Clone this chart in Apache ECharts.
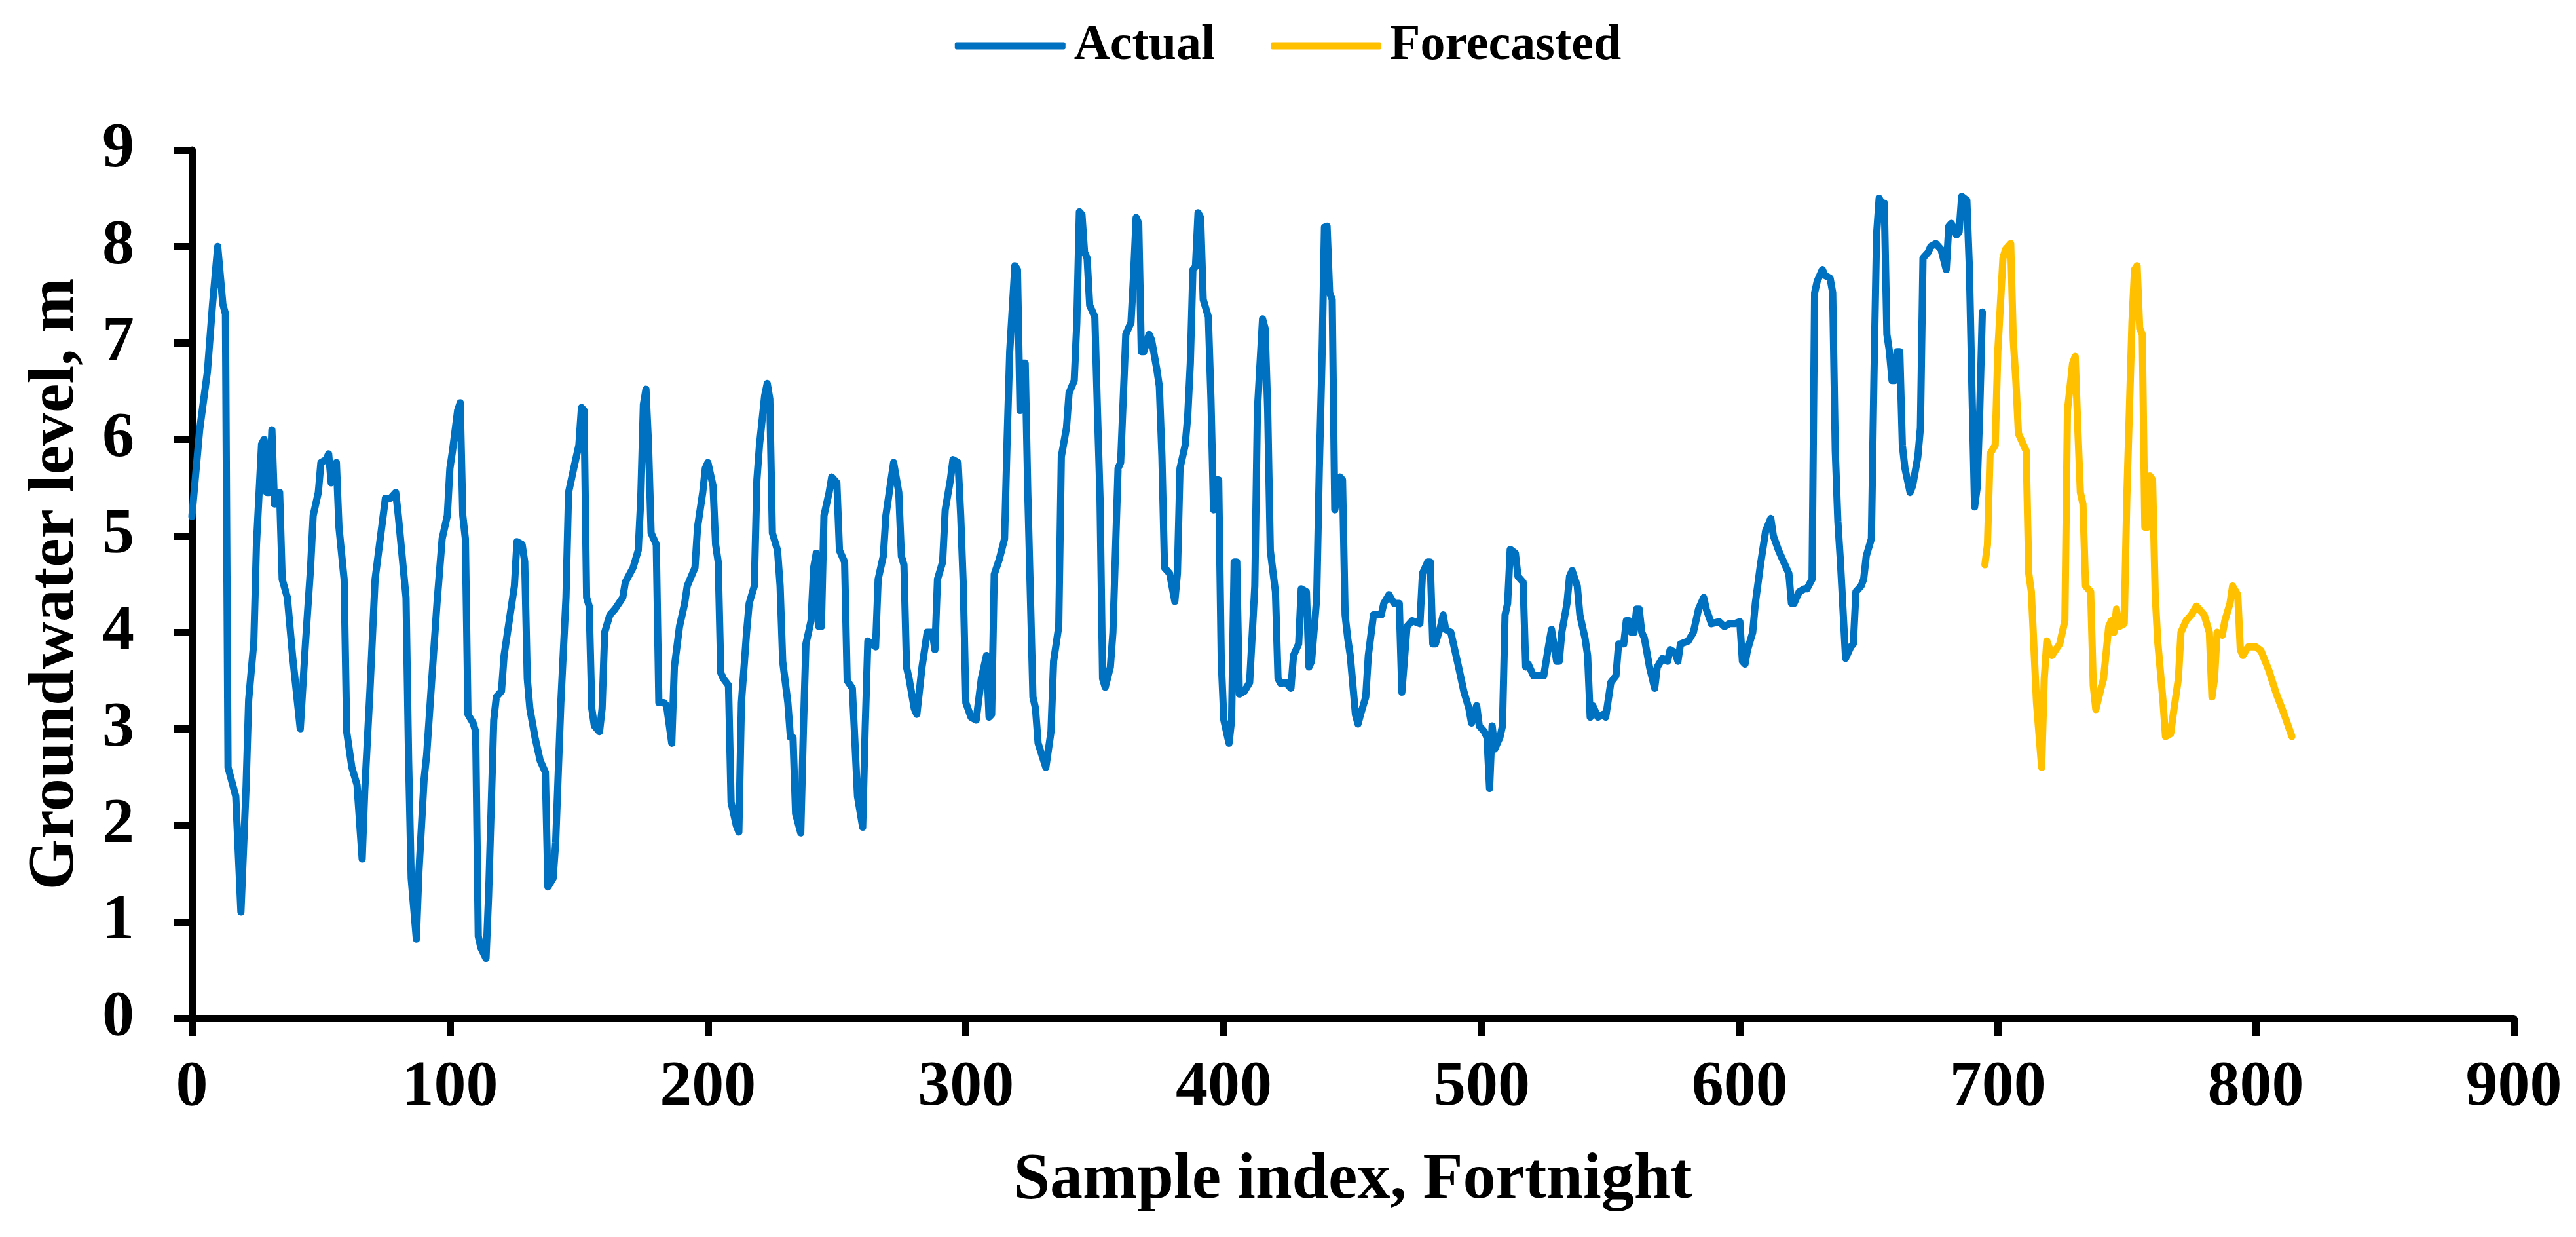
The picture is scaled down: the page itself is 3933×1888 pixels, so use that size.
<!DOCTYPE html>
<html>
<head>
<meta charset="utf-8">
<title>Groundwater level</title>
<script src="https://cdn.jsdelivr.net/npm/echarts@6/dist/echarts.min.js"></script>
<style>
  html, body { margin: 0; padding: 0; background: #fff; }
  #chart { width: 3933px; height: 1888px; }
</style>
</head>
<body>
<div id="chart"></div>
<script>
// sample index / level (turning points of each curve)
const actualIdx = [
  0, 3, 6, 8, 10, 12, 13, 14, 15, 17, 19, 21, 22, 24, 25, 27, 28, 29, 30, 31,
  32, 34, 35, 37, 39, 42, 44, 46, 47, 49, 50, 52, 53, 54, 56, 57, 59, 60, 62, 64,
  66, 67, 69, 71, 73, 75, 77, 79, 80, 83, 84, 85, 87, 88, 90, 91, 93, 95, 97, 99,
  100, 101, 103, 104, 105, 106, 107, 109, 110, 111, 112, 114, 115, 117, 118, 120, 121, 123, 125, 126,
  128, 129, 130, 131, 133, 135, 137, 138, 140, 141, 143, 145, 146, 148, 150, 151, 152, 153, 154, 155,
  156, 158, 159, 160, 162, 164, 167, 168, 171, 173, 174, 175, 176, 177, 178, 180, 181, 183, 184, 186,
  187, 189, 191, 192, 195, 196, 198, 199, 200, 202, 203, 204, 205, 206, 208, 209, 211, 212, 213, 215,
  216, 218, 219, 220, 222, 223, 224, 225, 227, 228, 229, 231, 232, 233, 234, 236, 237, 238, 240, 241,
  242, 243, 244, 245, 247, 248, 250, 251, 253, 254, 256, 258, 260, 261, 262, 265, 266, 268, 269, 271,
  272, 274, 275, 276, 277, 278, 280, 281, 283, 285, 287, 288, 289, 291, 292, 294, 295, 297, 298, 299,
  300, 302, 304, 306, 308, 309, 310, 311, 313, 315, 316, 317, 319, 320, 321, 322, 323, 324, 326, 327,
  328, 331, 333, 334, 336, 337, 339, 340, 342, 343, 344, 345, 346, 347, 348, 350, 351, 352, 353, 354,
  356, 357, 359, 360, 362, 364, 365, 366, 367, 368, 369, 371, 372, 374, 375, 376, 377, 379, 381, 382,
  383, 385, 386, 387, 388, 389, 390, 391, 392, 394, 395, 396, 397, 398, 399, 400, 402, 403, 404, 405,
  406, 408, 410, 412, 413, 415, 416, 417, 418, 420, 421, 422, 424, 426, 427, 429, 430, 432, 433, 434,
  436, 437, 438, 439, 440, 441, 442, 443, 445, 446, 447, 448, 449, 451, 452, 453, 455, 456, 458, 461,
  462, 464, 466, 468, 469, 471, 473, 476, 477, 479, 480, 481, 482, 484, 485, 486, 488, 490, 491, 493,
  495, 496, 498, 499, 501, 502, 503, 504, 505, 507, 508, 509, 510, 511, 513, 514, 516, 517, 518, 520,
  524, 526, 527, 529, 530, 531, 533, 534, 535, 537, 538, 540, 541, 542, 543, 545, 547, 548, 550, 552,
  553, 555, 556, 557, 558, 559, 560, 561, 562, 563, 565, 567, 568, 570, 572, 573, 575, 576, 577, 580,
  582, 584, 586, 587, 589, 592, 594, 596, 598, 600, 601, 602, 603, 605, 606, 608, 610, 612, 613, 615,
  618, 619, 620, 621, 623, 625, 626, 628, 629, 630, 632, 633, 635, 636, 637, 638, 639, 641, 643, 644,
  645, 647, 648, 649, 651, 652, 653, 654, 655, 656, 657, 658, 659, 660, 661, 662, 663, 664, 666, 667,
  669, 670, 671, 673, 674, 676, 678, 680, 681, 682, 684, 685, 686, 688, 689, 690, 691, 692, 693, 694
];
const actualVal = [
  5.2, 6.1, 6.7, 7.4, 8.0, 7.4, 7.3, 2.6, 2.5, 2.3, 1.1, 2.4, 3.3, 3.9, 4.9, 5.95, 6.0, 5.45, 5.45, 6.1,
  5.33, 5.45, 4.55, 4.36, 3.76, 3.0, 3.88, 4.67, 5.21, 5.45, 5.76, 5.79, 5.85, 5.55, 5.76, 5.09, 4.55, 2.97, 2.6, 2.42,
  1.65, 2.36, 3.39, 4.55, 4.97, 5.39, 5.39, 5.45, 5.21, 4.36, 2.67, 1.45, 0.82, 1.52, 2.48, 2.73, 3.52, 4.3, 4.97, 5.21,
  5.7, 5.88, 6.3, 6.38, 5.21, 4.97, 3.15, 3.06, 2.97, 0.85, 0.73, 0.62, 1.27, 3.09, 3.33, 3.39, 3.76, 4.12, 4.48, 4.94,
  4.91, 4.73, 3.52, 3.21, 2.91, 2.67, 2.55, 1.36, 1.45, 1.82, 3.27, 4.36, 5.45, 5.7, 5.94, 6.33, 6.3, 4.36, 4.27, 3.21,
  3.03, 2.97, 3.21, 4.0, 4.18, 4.24, 4.36, 4.52, 4.67, 4.85, 5.39, 6.36, 6.52, 5.94, 5.03, 4.91, 3.27, 3.27, 3.24, 2.85,
  3.64, 4.06, 4.3, 4.48, 4.67, 5.09, 5.45, 5.7, 5.76, 5.52, 4.91, 4.73, 3.58, 3.52, 3.45, 2.24, 2.0, 1.93, 3.27, 4.0,
  4.3, 4.48, 5.58, 5.94, 6.45, 6.58, 6.42, 5.03, 4.85, 4.48, 3.7, 3.27, 2.91, 2.91, 2.12, 1.92, 2.97, 3.88, 4.12, 4.67,
  4.82, 4.06, 4.06, 5.21, 5.45, 5.61, 5.55, 4.85, 4.73, 3.5, 3.42, 2.3, 1.98, 3.03, 3.91, 3.85, 4.55, 4.79, 5.21, 5.58,
  5.76, 5.45, 4.79, 4.7, 3.64, 3.52, 3.21, 3.15, 3.64, 4.0, 4.0, 3.82, 4.55, 4.73, 5.27, 5.58, 5.79, 5.76, 5.21, 4.48,
  3.27, 3.12, 3.09, 3.52, 3.76, 3.12, 3.15, 4.6, 4.76, 4.97, 6.0, 6.91, 7.8, 7.76, 6.3, 6.79, 6.79, 5.45, 3.33, 3.21,
  2.85, 2.6, 2.97, 3.7, 4.06, 5.82, 6.12, 6.48, 6.61, 7.21, 8.36, 8.33, 7.94, 7.88, 7.39, 7.27, 6.3, 5.39, 3.52, 3.43,
  3.64, 4.0, 5.7, 5.76, 7.09, 7.21, 7.7, 8.3, 8.24, 6.91, 6.91, 7.09, 7.03, 6.73, 6.55, 5.82, 4.67, 4.61, 4.32, 4.61,
  5.7, 5.94, 6.24, 6.79, 7.76, 7.79, 8.35, 8.3, 7.45, 7.27, 6.42, 5.27, 5.58, 5.58, 3.7, 3.09, 2.85, 3.09, 4.73, 4.73,
  3.36, 3.39, 3.48, 4.48, 6.3, 7.25, 7.15, 6.3, 4.85, 4.42, 3.52, 3.47, 3.48, 3.42, 3.76, 3.88, 4.45, 4.42, 3.64, 3.7,
  4.36, 5.7, 6.79, 8.2, 8.21, 7.52, 7.45, 5.27, 5.61, 5.58, 4.18, 3.94, 3.76, 3.15, 3.05, 3.15, 3.33, 3.76, 4.18, 4.18,
  4.3, 4.39, 4.3, 4.3, 3.38, 4.06, 4.12, 4.09, 4.61, 4.73, 4.73, 3.88, 3.88, 4.06, 4.18, 4.03, 4.0, 3.76, 3.64, 3.39,
  3.21, 3.06, 3.24, 3.03, 2.97, 2.91, 2.38, 3.03, 2.79, 2.91, 3.03, 4.18, 4.3, 4.86, 4.82, 4.58, 4.52, 3.64, 3.67, 3.55,
  3.55, 3.88, 4.03, 3.7, 3.7, 4.0, 4.3, 4.58, 4.64, 4.48, 4.18, 3.94, 3.76, 3.12, 3.24, 3.12, 3.15, 3.12, 3.48, 3.55,
  3.88, 3.88, 4.12, 4.12, 4.0, 4.0, 4.24, 4.24, 4.0, 3.94, 3.64, 3.42, 3.64, 3.73, 3.7, 3.82, 3.79, 3.7, 3.88, 3.91,
  4.0, 4.24, 4.36, 4.24, 4.09, 4.11, 4.06, 4.09, 4.09, 4.11, 3.7, 3.67, 3.82, 4.0, 4.3, 4.7, 5.05, 5.18, 5.0, 4.85,
  4.67, 4.61, 4.3, 4.3, 4.42, 4.45, 4.45, 4.55, 7.52, 7.64, 7.76, 7.7, 7.67, 7.52, 5.88, 5.15, 4.73, 3.73, 3.85, 3.88,
  4.42, 4.48, 4.55, 4.79, 4.97, 6.67, 8.12, 8.5, 8.45, 8.45, 7.09, 6.91, 6.61, 6.61, 6.91, 6.91, 5.94, 5.7, 5.45, 5.52,
  5.82, 6.12, 7.88, 7.94, 8.0, 8.03, 7.97, 7.76, 8.21, 8.24, 8.12, 8.15, 8.52, 8.48, 7.76, 6.5, 5.3, 5.5, 6.3, 7.32
];

const forecastIdx = [
  695, 696, 697, 699, 700, 702, 703, 705, 706, 707, 708, 710, 711, 712, 713, 715, 717, 718, 719, 721,
  724, 726, 727, 729, 730, 731, 732, 733, 734, 736, 737, 738, 740, 741, 743, 744, 745, 746, 747, 749,
  750, 752, 753, 754, 755, 756, 757, 758, 759, 760, 761, 762, 763, 764, 765, 767, 768, 770, 771, 773,
  775, 777, 778, 780, 782, 783, 784, 785, 787, 788, 790, 791, 793, 794, 795, 797, 800, 802, 805, 808,
  811, 814
];
const forecastVal = [
  4.7, 4.91, 5.85, 5.94, 6.91, 7.88, 7.97, 8.03, 7.03, 6.61, 6.06, 5.94, 5.88, 4.61, 4.42, 3.27, 2.6, 3.52, 3.91, 3.76,
  3.88, 4.12, 6.3, 6.79, 6.86, 6.12, 5.45, 5.33, 4.48, 4.42, 3.45, 3.2, 3.42, 3.52, 4.06, 4.12, 4.0, 4.24, 4.06, 4.09,
  5.39, 7.21, 7.76, 7.8, 7.15, 7.09, 5.09, 5.09, 5.62, 5.58, 4.4, 3.9, 3.6, 3.3, 2.92, 2.95, 3.15, 3.52, 4.0, 4.12,
  4.18, 4.27, 4.24, 4.18, 4.0, 3.33, 3.52, 4.0, 3.97, 4.12, 4.3, 4.48, 4.39, 3.82, 3.76, 3.85, 3.85, 3.81, 3.61, 3.36,
  3.15, 2.92
];

const xTicks = [0, 100, 200, 300, 400, 500, 600, 700, 800, 900];
const yTicks = [0, 1, 2, 3, 4, 5, 6, 7, 8, 9];

const serif = '"Times New Roman", "Liberation Serif", serif';
const pairs = (xs, ys) => xs.map((x, i) => [x, ys[i]]);

const chart = echarts.init(document.getElementById('chart'), null, { renderer: 'canvas' });

const axisCommon = {
  axisLine: { show: true, lineStyle: { color: '#000', width: 11 } },
  axisTick: { show: true, inside: false, length: 27, lineStyle: { color: '#000', width: 11 } },
  splitLine: { show: false },
  nameTextStyle: { color: '#000', fontFamily: serif, fontWeight: 'bold', fontSize: 100 }
};

const option = {
  backgroundColor: '#fff',
  animation: false,
  legend: {
    top: 27,
    left: 'center',
    icon: 'roundRect',
    itemWidth: 169,
    itemHeight: 11,
    itemGap: 85,
    textStyle: { color: '#000', fontFamily: serif, fontWeight: 'bold', fontSize: 76, padding: [0, 0, 0, 8] },
    data: ['Actual', 'Forecasted']
  },
  grid: { left: 293, right: 95, top: 229, bottom: 334, containLabel: false },
  xAxis: Object.assign({}, axisCommon, {
    type: 'value',
    min: xTicks[0],
    max: xTicks[xTicks.length - 1],
    interval: 100,
    name: 'Sample index, Fortnight',
    nameLocation: 'middle',
    nameGap: 198,
    axisLabel: { color: '#000', fontFamily: serif, fontWeight: 'bold', fontSize: 98, margin: 58 }
  }),
  yAxis: Object.assign({}, axisCommon, {
    type: 'value',
    min: yTicks[0],
    max: yTicks[yTicks.length - 1],
    interval: 1,
    name: 'Groundwater level, m',
    nameLocation: 'middle',
    nameRotate: 90,
    nameGap: 158,
    axisLabel: { color: '#000', fontFamily: serif, fontWeight: 'bold', fontSize: 98, margin: 88 }
  }),
  series: [
    {
      name: 'Actual',
      type: 'line',
      data: pairs(actualIdx, actualVal),
      showSymbol: false,
      color: '#0070C0',
      lineStyle: { color: '#0070C0', width: 11, cap: 'round', join: 'round' }
    },
    {
      name: 'Forecasted',
      type: 'line',
      data: pairs(forecastIdx, forecastVal),
      showSymbol: false,
      color: '#FFC000',
      lineStyle: { color: '#FFC000', width: 11, cap: 'round', join: 'round' }
    }
  ]
};

chart.setOption(option);
</script>
</body>
</html>
